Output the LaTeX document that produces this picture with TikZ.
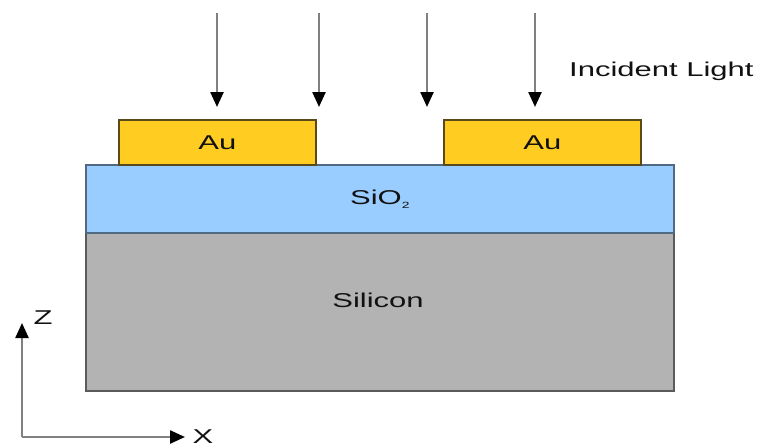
\documentclass[tikz,border=0pt]{standalone}
\usepackage{fontspec}
\setmainfont{Liberation Sans}
\newfontfamily\widefont[FakeStretch=1.55]{Liberation Sans}
\usetikzlibrary{arrows.meta}
\definecolor{aufill}{HTML}{FFCC22}
\definecolor{auline}{HTML}{5A4A1A}
\definecolor{oxfill}{HTML}{99CCFF}
\definecolor{oxline}{HTML}{4F6A82}
\definecolor{sifill}{HTML}{B3B3B3}
\definecolor{siline}{HTML}{5A5A5A}
\definecolor{rayline}{HTML}{808080}
\definecolor{txt}{HTML}{111111}
\tikzset{
  layer/.style={draw, line width=1.6pt, inner sep=0pt, anchor=north west},
  lbl/.style={font=\widefont\fontsize{20}{23}\selectfont, text=txt, inner sep=0pt},
  ray/.style={draw=rayline, line width=2.4pt, -{Triangle[width=13pt,length=15pt,color=black]}},
}
\begin{document}
\begin{tikzpicture}[x=1pt,y=-1pt]
\useasboundingbox (0,0) rectangle (768,447);
% layers
\node[layer, fill=sifill, draw=siline, minimum width=588pt, minimum height=158pt] (si) at (85,232) {};
\node[layer, fill=oxfill, draw=oxline, minimum width=588pt, minimum height=68pt] (ox) at (85,164) {};
\node[layer, fill=aufill, draw=auline, minimum width=197pt, minimum height=45pt] (au1) at (118,119) {};
\node[layer, fill=aufill, draw=auline, minimum width=197pt, minimum height=45pt] (au2) at (443,119) {};
% labels
\node[lbl] (au1t) at (au1.center) {Au};
\node[lbl] (au2t) at (au2.center) {Au};
\node[lbl] (oxt) at (ox.center) {SiO{\fontsize{9}{10}\selectfont\raisebox{-4pt}{2}}};
\node[lbl] (sit) at (378,300) {Silicon};
\node[lbl, anchor=west] (light) at (569,71) {Incident Light};
% rays
\foreach \i/\x in {1/217,2/319,3/427,4/535}{
  \coordinate (r\i s) at (\x,13);
  \coordinate (r\i e) at (\x,107);
  \draw[ray] (r\i s) -- (r\i e);
}
% axes
\coordinate (o) at (22,437);
\coordinate (zt) at (22,323);
\coordinate (xt) at (185,437);
\draw[ray] (o) -- (zt);
\draw[ray] (o) -- (xt);
\node[lbl] (zl) at (43,318) {Z};
\node[lbl] (xl) at (203,437) {X};
\end{tikzpicture}
\end{document}
